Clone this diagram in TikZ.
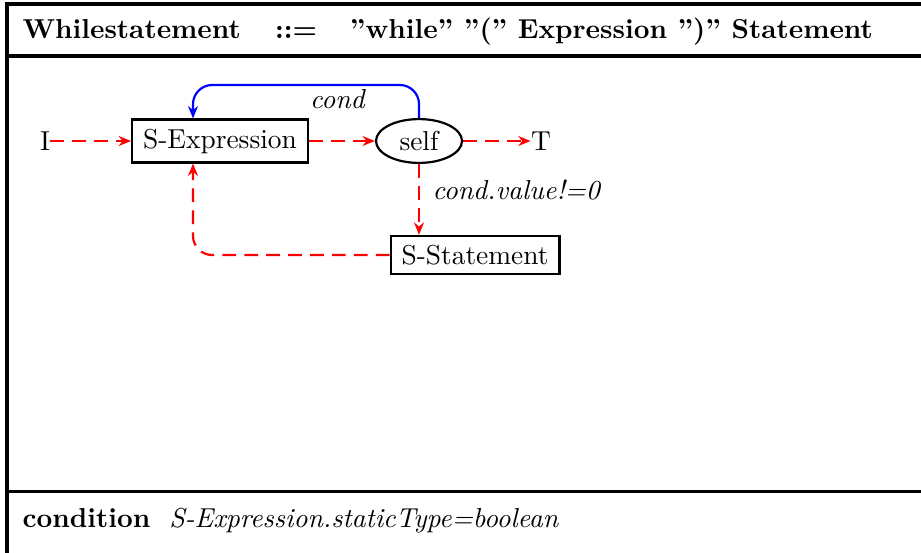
\documentclass[tikz,border=0pt]{standalone}
\usetikzlibrary{arrows.meta,shapes.geometric}

\tikzset{
  frameline/.style={line width=1.1pt},
  stepbox/.style={draw, line width=0.8pt, rectangle, inner xsep=4pt},
  selfnode/.style={draw, line width=0.8pt, ellipse, minimum width=31.4pt, minimum height=16pt, inner sep=1pt},
  flow/.style={red, line width=0.8pt, dash pattern=on 5pt off 3pt, -{Stealth[length=4.5pt,width=3.6pt]}},
  ctrl/.style={blue, line width=0.8pt, rounded corners=7pt, -{Stealth[length=4.5pt,width=3.6pt]}},
  lbl/.style={inner sep=0pt}
}

\begin{document}
\begin{tikzpicture}[x=0.365pt, y=-0.365pt]
  \useasboundingbox (0,0) rectangle (921,552);

  % frame of the rule
  \draw[frameline] (7,570) -- (7,4) -- (940,4);
  \draw[frameline] (7,56) -- (940,56);
  \draw[frameline] (7,491) -- (940,491);

  % heading
  \node[lbl, anchor=base west] (head) at (22,38)
    {\textbf{Whilestatement\hspace{12.5pt}::=\hspace{12pt}"while" "(" Expression ")" Statement}};

  % nodes
  \node[lbl, anchor=center] (in) at (45,141) {I};
  \node[stepbox] (sexp) at (220,141) {S-Expression};
  \node[selfnode] (self) at (419,141) {self};
  \node[lbl] (out) at (541,141) {T};
  \node[stepbox] (sstat) at (475,255) {S-Statement};

  \coordinate (up) at (193,85);
  \coordinate (down) at (193,255);

  % connectors
  \draw[flow] (in) -- (sexp);
  \draw[flow] (sexp) -- (self);
  \draw[flow] (self) -- (out.west);
  \draw[flow] (self.south) -- (self.south |- sstat.north);
  \draw[flow, rounded corners=7pt] (sstat.west) -- (down) -- (sexp.south -| down);
  \draw[ctrl] (self.north) |- (up) -- (sexp.north -| up);

  % labels
  \node[lbl] (condlbl) at (338,99) {\textit{cond}};
  \node[lbl, anchor=west] (vallbl) at (432,190) {\textit{cond.value!=0}};

  % condition row
  \node[lbl, anchor=base west] (cond) at (22,527)
    {\textbf{condition}\hspace{7pt}\textit{S-Expression.staticType=boolean}};
\end{tikzpicture}
\end{document}
